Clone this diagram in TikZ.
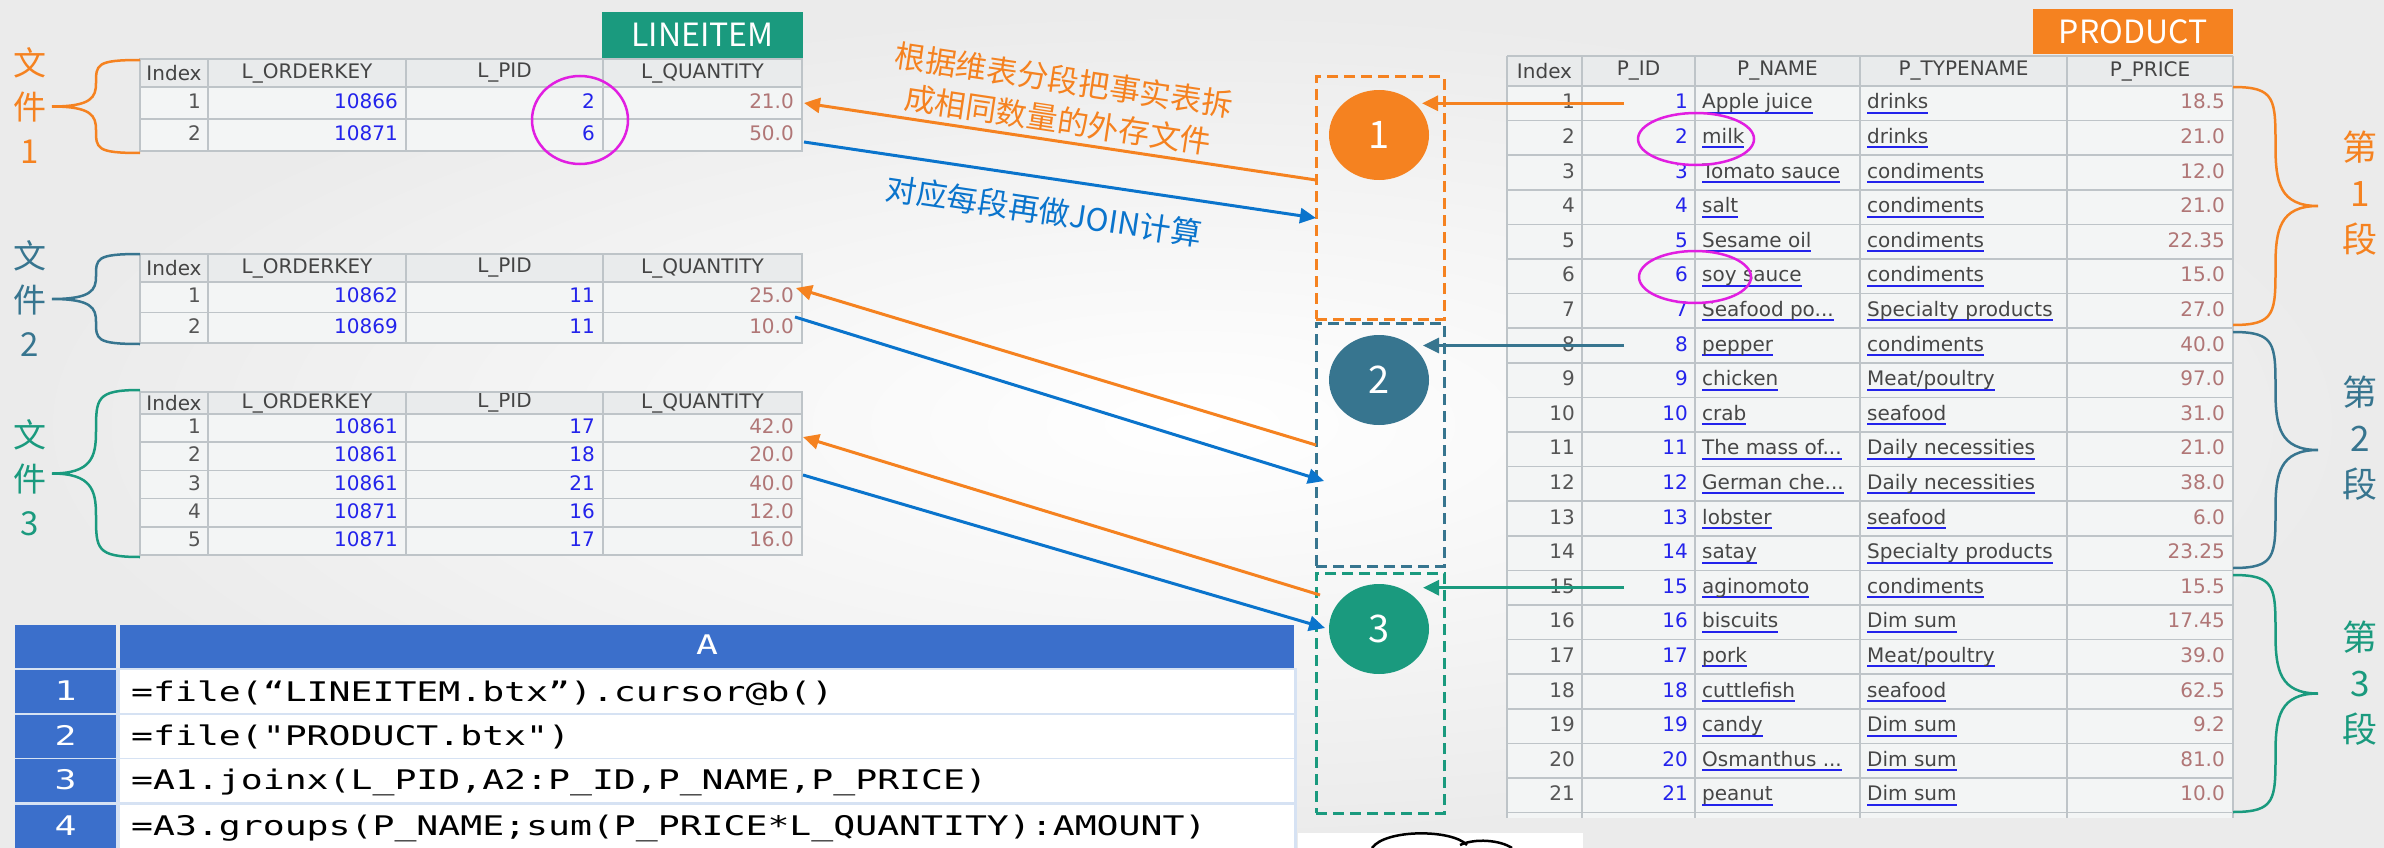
\documentclass[tikz,border=0pt]{standalone}
\usepackage{fontspec}
\setmainfont{Noto Sans CJK SC}
\newfontfamily\tabfont{DejaVu Sans}
\newfontfamily\codefont[FakeStretch=1.35]{DejaVu Sans Mono}
\usetikzlibrary{arrows.meta,shapes.geometric}

\definecolor{segA}{RGB}{245,130,32}
\definecolor{segB}{RGB}{55,117,143}
\definecolor{segC}{RGB}{26,154,126}
\definecolor{joinblue}{RGB}{10,116,204}
\definecolor{hilite}{RGB}{225,30,225}
\definecolor{codeblue}{RGB}{59,111,203}
\definecolor{codegap}{RGB}{214,226,243}
\definecolor{gridgray}{RGB}{190,196,200}
\definecolor{headgray}{RGB}{233,235,236}
\definecolor{cellgray}{RGB}{243,245,245}
\definecolor{headtxt}{RGB}{68,68,68}
\definecolor{idxgray}{RGB}{85,85,85}
\definecolor{keyblue}{RGB}{35,35,235}
\definecolor{qtyrose}{RGB}{176,118,118}
\definecolor{namegray}{RGB}{70,70,70}

\newcommand\fsize[2]{\fontsize{#1}{#2}\selectfont}
\newcommand\pname[1]{\setbox0\hbox{\color{namegray}#1}\rlap{\color{keyblue}\rule[-5pt]{\wd0}{2pt}}\box0}
\newcommand\cut{...}

\tikzset{
  gridline/.style={draw=gridgray, line width=1.5pt},
  colhead/.style={font=\tabfont\fsize{20}{24}, text=headtxt, inner sep=0pt},
  cell/.style={font=\tabfont\fsize{20}{24}, inner sep=0pt, text height=15pt, text depth=4pt},
  tag/.style={fill=#1, text=white, font=\fsize{32}{36}, minimum height=46pt, minimum width=201pt, inner sep=0pt},
  segbox/.style={draw=#1, line width=3pt, dash pattern=on 11pt off 6pt, minimum width=128pt, inner sep=0pt},
  segdot/.style={ellipse, fill=#1, text=white, font=\fsize{38}{40}, minimum width=100pt, minimum height=90pt, inner sep=0pt},
  flow/.style={draw=#1, line width=3pt, -{Triangle[length=16pt, width=15pt]}},
  pick/.style={ellipse, draw=hilite, line width=2.5pt, inner sep=0pt},
  filelab/.style={text=#1, font=\fsize{33}{44}, align=center, inner sep=0pt},
  seglab/.style={text=#1, font=\fsize{35}{46}, align=center, inner sep=0pt},
  note/.style={text=#1, font=\fsize{31}{40}, align=center, rotate=-8.5, inner sep=0pt},
  codecell/.style={font=\codefont\fsize{27}{30}, inner sep=0pt, text height=20pt, text depth=5pt},
}

% curly brace: #1 colour, #2 open end x, #3 tip x, #4 top y, #5 bottom y
\newcommand\curly[5]{%
  \pgfmathsetmacro\bm{(#2+#3)/2}%
  \pgfmathsetmacro\bc{(#4+#5)/2}%
  \pgfmathsetmacro\bh{(#5-#4)/2}%
  \draw[#1, line width=2.5pt]
    (#2,#4) .. controls (\bm,#4) and (\bm,{#4+0.1*\bh}) .. (\bm,{#4+0.5*\bh})
    .. controls (\bm,{\bc-0.2*\bh}) and ({\bm+0.1*(#3-\bm)},\bc) .. (#3,\bc)
    .. controls ({\bm+0.1*(#3-\bm)},\bc) and (\bm,{\bc+0.2*\bh}) .. (\bm,{#5-0.5*\bh})
    .. controls (\bm,{#5-0.1*\bh}) and (\bm,#5) .. (#2,#5);
}

% lineitem table: #1 name, #2 top, #3 header bottom, #4 row height, #5 bottom, #6 rows
\newcommand\lineitemtab[6]{%
  \fill[cellgray] (140,#3) rectangle (802,#5);
  \fill[headgray] (140,#2) rectangle (802,#3);
  \node[colhead] (#1-index) at (174,{(#2+#3)/2}) {Index};
  \node[colhead] (#1-okey) at (307,{(#2+#3)/2}) {L\_ORDERKEY};
  \node[colhead] (#1-pid) at (504.5,{(#2+#3)/2}) {L\_PID};
  \node[colhead] (#1-qty) at (702.5,{(#2+#3)/2}) {L\_QUANTITY};
  \foreach \i/\okey/\pid/\qty [count=\r] in {#6} {
    \pgfmathsetmacro\ym{#3+(\r-0.5)*#4}
    \pgfmathsetmacro\yb{#3+\r*#4}
    \node[cell, text=idxgray, anchor=east] (#1-i\r) at (201,\ym) {\i};
    \node[cell, text=keyblue, anchor=east] (#1-k\r) at (398,\ym) {\okey};
    \node[cell, text=keyblue, anchor=east] (#1-p\r) at (595,\ym) {\pid};
    \node[cell, text=qtyrose, anchor=east] (#1-q\r) at (794,\ym) {\qty};
    \draw[gridline] (140,\yb) -- (802,\yb);
  }
  \draw[gridline] (140,#2) rectangle (802,#5);
  \draw[gridline] (140,#3) -- (802,#3);
  \foreach \cx in {208,406,603} \draw[gridline] (\cx,#2) -- (\cx,#5);
}

\begin{document}
\begin{tikzpicture}[x=1pt, y=-1pt]
  \useasboundingbox (0,0) rectangle (2384,848);
  \clip (0,0) rectangle (2384,848);
  \shade[inner color=white, outer color=black!8] (0,0) rectangle (2384,848);

  % fact table split into three files
  \node[tag=segC] (lineitem) at (702.5,35) {LINEITEM};
  \lineitemtab{fa}{59}{87}{32}{151}{1/10866/2/21.0, 2/10871/6/50.0}
  \lineitemtab{fb}{254}{282}{30.5}{343}{1/10862/11/25.0, 2/10869/11/10.0}
  \lineitemtab{fc}{392}{414}{28.2}{555}{1/10861/17/42.0, 2/10861/18/20.0, 3/10861/21/40.0, 4/10871/16/12.0, 5/10871/17/16.0}

  \curly{segA}{140}{52}{60}{153}
  \curly{segB}{140}{52}{254}{344}
  \curly{segC}{140}{52}{390}{557}
  \node[filelab=segA] (file1) at (30,106) {文\\件\\1};
  \node[filelab=segB] (file2) at (30,299) {文\\件\\2};
  \node[filelab=segC] (file3) at (30,478) {文\\件\\3};

  % dimension table
  \node[tag=segA, minimum width=200pt, minimum height=45pt] (product) at (2133,31.5) {PRODUCT};
  \fill[cellgray] (1507,86) rectangle (2233,818);
  \fill[headgray] (1507,56) rectangle (2233,86);
  \node[colhead] (p-index) at (1544.5,71) {Index};
  \node[colhead] (p-id) at (1638.5,71) {P\_ID};
  \node[colhead] (p-name) at (1777.5,71) {P\_NAME};
  \node[colhead] (p-type) at (1963.5,71) {P\_TYPENAME};
  \node[colhead] (p-price) at (2150,71) {P\_PRICE};
  \foreach \nm/\tp/\pr [count=\r] in {Apple juice/drinks/18.5, milk/drinks/21.0,
      Tomato sauce/condiments/12.0, salt/condiments/21.0, Sesame oil/condiments/22.35,
      soy sauce/condiments/15.0, Seafood po\cut/Specialty products/27.0,
      pepper/condiments/40.0, chicken/Meat\slash poultry/97.0, crab/seafood/31.0,
      The mass of\cut/Daily necessities/21.0, German che\cut/Daily necessities/38.0,
      lobster/seafood/6.0, satay/Specialty products/23.25, aginomoto/condiments/15.5,
      biscuits/Dim sum/17.45, pork/Meat\slash poultry/39.0, cuttlefish/seafood/62.5,
      candy/Dim sum/9.2, Osmanthus \cut/Dim sum/81.0, peanut/Dim sum/10.0} {
    \pgfmathsetmacro\ym{86+(\r-0.5)*34.6}
    \pgfmathsetmacro\yb{86+\r*34.6}
    \node[cell, text=idxgray, anchor=east] (p-i\r) at (1575,\ym) {\r};
    \node[cell, text=keyblue, anchor=east] (p-d\r) at (1688,\ym) {\r};
    \node[cell, anchor=west] (p-n\r) at (1702,\ym) {\pname{\nm}};
    \node[cell, anchor=west] (p-t\r) at (1867,\ym) {\pname{\tp}};
    \node[cell, text=qtyrose, anchor=east] (p-p\r) at (2225,\ym) {\pr};
    \draw[gridline] (1507,\yb) -- (2233,\yb);
  }
  \draw[gridline] (1507,56) -- (2233,56);
  \draw[gridline] (1507,86) -- (2233,86);
  \foreach \cx in {1507,1582,1695,1860,2067,2233} \draw[gridline] (\cx,56) -- (\cx,818);

  \curly{segA}{2233}{2318}{87}{325}
  \curly{segB}{2233}{2318}{332}{568}
  \curly{segC}{2233}{2318}{575}{812}
  \node[seglab=segA] (part1) at (2360,193) {第\\1\\段};
  \node[seglab=segB] (part2) at (2360,438) {第\\2\\段};
  \node[seglab=segC] (part3) at (2360,683) {第\\3\\段};

  % segments in the middle
  \node[segbox=segA, minimum height=242pt] (seg1) at (1380,198) {};
  \node[segbox=segB, minimum height=243pt] (seg2) at (1380,444.5) {};
  \node[segbox=segC, minimum height=240pt] (seg3) at (1380,693) {};
  \node[segdot=segA] (dot1) at (1379,135) {1};
  \node[segdot=segB] (dot2) at (1379,380) {2};
  \node[segdot=segC] (dot3) at (1379,629) {3};

  \coordinate (g1) at (1624,103.3);  \coordinate (dot1-in) at (1422,103.3);
  \coordinate (g8) at (1624,345.5);  \coordinate (dot2-in) at (1423,345.5);
  \coordinate (g15) at (1624,587.7); \coordinate (dot3-in) at (1423,587.7);
  \draw[flow=segA] (g1) -- (dot1-in);
  \draw[flow=segB] (g8) -- (dot2-in);
  \draw[flow=segC] (g15) -- (dot3-in);

  \coordinate (seg1-out) at (1316,180); \coordinate (fa-in) at (804,103);
  \coordinate (fa-out) at (804,142);    \coordinate (seg1-in) at (1316,218);
  \coordinate (seg2-out) at (1316,445); \coordinate (fb-in) at (796,288);
  \coordinate (fb-out) at (795,317);    \coordinate (seg2-in) at (1324,481);
  \coordinate (seg3-out) at (1320,595); \coordinate (fc-in) at (803,437);
  \coordinate (fc-out) at (803,475);    \coordinate (seg3-in) at (1325,628);
  \draw[flow=segA] (seg1-out) -- (fa-in);
  \draw[flow=joinblue] (fa-out) -- (seg1-in);
  \draw[flow=segA] (seg2-out) -- (fb-in);
  \draw[flow=joinblue] (fb-out) -- (seg2-in);
  \draw[flow=segA] (seg3-out) -- (fc-in);
  \draw[flow=joinblue] (fc-out) -- (seg3-in);

  \node[note=segA] (splitnote) at (1061,100) {根据维表分段把事实表拆\\成相同数量的外存文件};
  \node[note=joinblue] (joinnote) at (1044,211) {对应每段再做JOIN计算};

  % matching keys
  \node[pick, minimum width=96pt, minimum height=88pt] (pick-a) at (580,120) {};
  \node[pick, minimum width=116pt, minimum height=52pt] (pick-b) at (1696,139) {};
  \node[pick, minimum width=112pt, minimum height=52pt] (pick-c) at (1695,277) {};

  % script
  \fill[codegap] (15,668) rectangle (1297,848);
  \fill[codeblue] (15,625) rectangle (116,668);
  \fill[codeblue] (120,625) rectangle (1294,668);
  \node[codecell, text=white] (colA) at (707,646.5) {A};
  \foreach \r/\ya in {1/670,2/715,3/759,4/805} {
    \fill[codeblue] (15,\ya) rectangle (116,\ya+43);
    \fill[white] (120,\ya) rectangle (1294,\ya+43);
    \node[codecell, text=white] (num\r) at (65.5,\ya+23) {\r};
  }
  \node[codecell, anchor=west] (code1) at (131,694) {=file(“LINEITEM.btx”).cursor@b()};
  \node[codecell, anchor=west] (code2) at (131,738) {=file("PRODUCT.btx")};
  \node[codecell, anchor=west] (code3) at (131,782) {=A1.joinx(L\_PID,A2:P\_ID,P\_NAME,P\_PRICE)};
  \node[codecell, anchor=west] (code4) at (131,828) {=A3.groups(P\_NAME;sum(P\_PRICE*L\_QUANTITY):AMOUNT)};

  % cloud at the bottom edge
  \fill[white] (1298,833) rectangle (1583,848);
  \draw[line width=2.5pt] (1372,848) .. controls (1385,829) and (1452,829) .. (1467,845);
  \draw[line width=2.5pt] (1460,845) .. controls (1475,838) and (1500,840) .. (1512,848);
\end{tikzpicture}
\end{document}
